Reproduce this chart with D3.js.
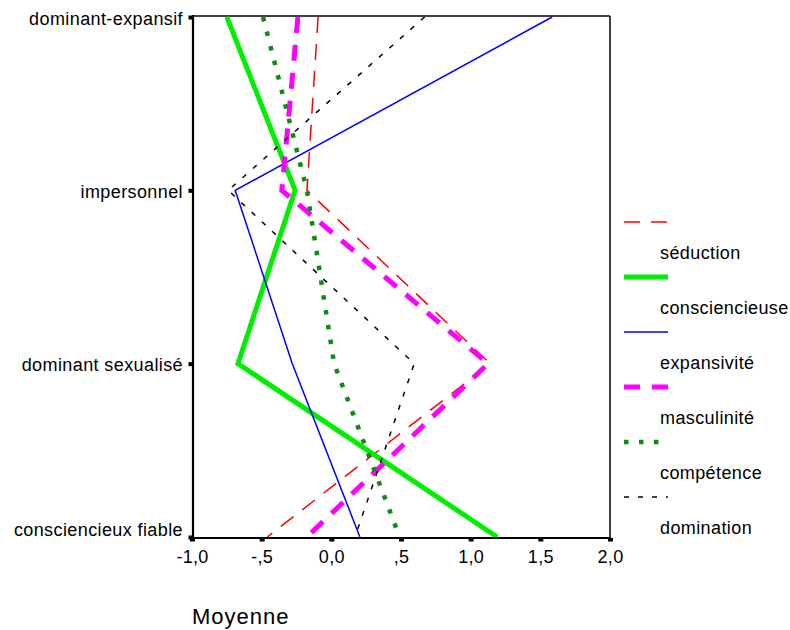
<!DOCTYPE html>
<html>
<head>
<meta charset="utf-8">
<script src="https://cdn.jsdelivr.net/npm/d3@7"></script>
<style>
  html, body { margin: 0; padding: 0; background: #fff; }
  svg { display: block; }
  text { font-family: "Liberation Sans", Arial, sans-serif; fill: #000; }
</style>
</head>
<body>
<svg id="chart" width="790" height="630"></svg>
<script>
const categories = ["dominant-expansif", "impersonnel", "dominant sexualisé", "consciencieux fiable"];
const seriesNames = ["séduction", "consciencieuse", "expansivité", "masculinité", "compétence", "domination"];
const seduction      = [-0.095, -0.175, 1.14, -0.46];
const consciencieuse = [-0.75, -0.26, -0.67, 1.19];
const expansivite    = [1.585, -0.69, -0.28, 0.205];
const masculinite    = [-0.24, -0.355, 1.125, -0.175];
const competence     = [-0.49, -0.175, 0.02, 0.49];
const domination     = [0.67, -0.74, 0.595, 0.17];
const xTickValues = [-1, -0.5, 0, 0.5, 1, 1.5, 2];
const xTickLabels = ["-1,0", "-,5", "0,0", ",5", "1,0", "1,5", "2,0"];
const xTitle = "Moyenne";

const seriesValues = [seduction, consciencieuse, expansivite, masculinite, competence, domination];
const styles = [
  { color: "#ff0000", width: 1.5, dash: "16,11" },
  { color: "#00ee00", width: 5, dash: null },
  { color: "#0000ff", width: 1.5, dash: null },
  { color: "#ff00ff", width: 5, dash: "16,12" },
  { color: "#118a11", width: 4.5, dash: "4.5,10.5" },
  { color: "#000000", width: 1.5, dash: "5,9" }
];

const svg = d3.select("#chart");
const pLeft = 193, pRight = 610, pTop = 16, pBottom = 538;
const x = d3.scaleLinear().domain([-1, 2]).range([192, 610]);
const y = d3.scalePoint().domain(categories).range([17, 537]);

// frame
svg.append("line").attr("x1", pLeft).attr("x2", pRight).attr("y1", pTop).attr("y2", pTop)
  .attr("stroke", "#000").attr("stroke-width", 1.5);
svg.append("line").attr("x1", pRight).attr("x2", pRight).attr("y1", pTop).attr("y2", pBottom)
  .attr("stroke", "#000").attr("stroke-width", 1.5);

// series lines
const line = d3.line().x(d => x(d)).y((d, i) => y(categories[i]));
seriesValues.forEach((vals, k) => {
  const st = styles[k];
  svg.append("path")
    .attr("d", line(vals))
    .attr("fill", "none")
    .attr("stroke", st.color)
    .attr("stroke-width", st.width)
    .attr("stroke-dasharray", st.dash)
    .attr("stroke-linejoin", "miter");
});

// axes
const xAxis = d3.axisBottom(x).tickValues(xTickValues).tickFormat((d, i) => xTickLabels[i]).tickSize(0).tickPadding(0);
const gx = svg.append("g").attr("transform", `translate(0,${pBottom})`).call(xAxis);
gx.select(".domain").remove();
gx.selectAll(".tick text").attr("y", 25).attr("dy", null).attr("font-size", 18)
  .attr("letter-spacing", 0.3)
  .attr("font-family", "Liberation Sans, Arial, sans-serif");
gx.selectAll(".tick").append("rect").attr("x", -2.5).attr("y", 0).attr("width", 5).attr("height", 3.5).attr("fill", "#000");

const yAxis = d3.axisLeft(y).tickSize(0).tickPadding(0);
const gy = svg.append("g").attr("transform", `translate(${pLeft},0)`).call(yAxis);
gy.select(".domain").remove();
gy.selectAll(".tick text").attr("x", -10).attr("dy", null)
  .attr("y", (d, i) => i === categories.length - 1 ? -2 : 7)
  .attr("letter-spacing", 0.4)
  .attr("font-size", 18).attr("font-family", "Liberation Sans, Arial, sans-serif");
gy.selectAll(".tick").append("rect").attr("x", -4.5).attr("y", -2).attr("width", 4).attr("height", 4).attr("fill", "#000");

svg.append("line").attr("x1", pLeft).attr("x2", pLeft).attr("y1", pTop - 1).attr("y2", pBottom + 1)
  .attr("stroke", "#000").attr("stroke-width", 2.2);
svg.append("line").attr("x1", pLeft - 1).attr("x2", pRight + 1).attr("y1", pBottom).attr("y2", pBottom)
  .attr("stroke", "#000").attr("stroke-width", 2.2);

// x title
svg.append("text").attr("x", 192).attr("y", 624).attr("font-size", 22).attr("letter-spacing", 1).text(xTitle);

// legend
const lg = svg.append("g");
seriesNames.forEach((name, k) => {
  const st = styles[k];
  const sy = 222 + k * 55;
  lg.append("line").attr("x1", 624).attr("x2", 668).attr("y1", sy).attr("y2", sy)
    .attr("stroke", st.color).attr("stroke-width", st.width).attr("stroke-dasharray", st.dash);
  lg.append("text").attr("x", 660).attr("y", sy + 37).attr("font-size", 18)
    .attr("letter-spacing", 0.4).text(name);
});
</script>
</body>
</html>
